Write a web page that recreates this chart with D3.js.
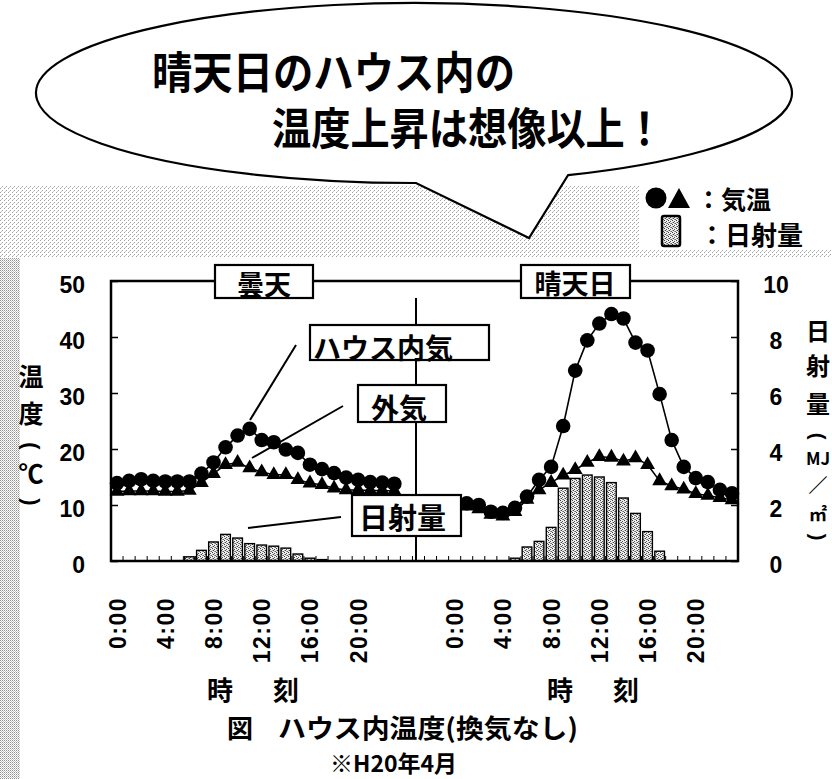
<!DOCTYPE html>
<html>
<head>
<meta charset="utf-8">
<script src="https://cdn.jsdelivr.net/npm/d3@7"></script>
<style>
  body { margin: 0; background: #fff; }
  svg { display: block; }
</style>
</head>
<body>
<svg id="chart" width="832" height="779"></svg>
<script>
// Hourly readings, 0:00–23:00, for an overcast day and a clear day (no ventilation)
const hours = d3.range(24);
const cloudyInside  = [13.9, 14.3, 14.6, 14.3, 14.2, 14.2, 14.2, 15.6, 17.6, 20.3, 22.4, 23.6,
                       21.6, 21.2, 19.9, 19.3, 17.2, 16.4, 15.7, 14.9, 14.5, 14.1, 14.0, 13.8];
const cloudyOutside = [12.4, 12.5, 12.5, 12.5, 12.4, 12.4, 12.6, 14.0, 15.6, 17.2, 17.6, 16.6,
                       15.9, 15.4, 15.4, 14.5, 13.9, 13.6, 13.0, 12.7, 12.7, 12.6, 12.6, 12.5];
const cloudySolar   = [0, 0, 0, 0, 0, 0, 0.15, 0.38, 0.68, 0.95, 0.82, 0.62,
                       0.57, 0.53, 0.46, 0.25, 0.1, 0.05, 0, 0, 0, 0, 0, 0];
const sunnyInside   = [10.6, 10.3, 10.0, 8.8, 8.6, 9.5, 11.5, 14.5, 16.8, 24.1, 34.0, 39.4,
                       42.4, 44.1, 43.3, 39.0, 37.6, 29.8, 21.6, 16.8, 14.8, 14.1, 12.7, 12.1];
const sunnyOutside  = [10.0, 9.8, 9.3, 8.3, 8.0, 8.8, 11.0, 12.7, 14.0, 15.3, 16.3, 17.6,
                       18.6, 18.5, 17.8, 18.4, 17.2, 14.3, 13.4, 12.8, 12.0, 11.7, 11.3, 10.9];
const sunnySolar    = [0, 0, 0, 0, 0, 0.1, 0.5, 0.7, 1.2, 2.6, 2.95, 3.07,
                       3.0, 2.8, 2.25, 1.7, 1.05, 0.35, 0, 0, 0, 0, 0, 0];

const dayNames   = ["曇天", "晴天日"];
const tempTicks  = [0, 10, 20, 30, 40, 50];
const solarTicks = [0, 2, 4, 6, 8, 10];
const timeTicks  = [0, 4, 8, 12, 16, 20];

// The two days share one hourly category axis: 24 slots, 4 empty slots, 24 slots
const daySlotStart = [0, 28];
const slotCount = 52;

const days = [
  { name: dayNames[0], start: daySlotStart[0], inside: cloudyInside, outside: cloudyOutside, solar: cloudySolar },
  { name: dayNames[1], start: daySlotStart[1], inside: sunnyInside,  outside: sunnyOutside,  solar: sunnySolar }
];

const JP = "'Noto Sans CJK JP', 'Noto Sans', sans-serif";
const NUM = "'Liberation Sans', Arial, sans-serif";

const svg = d3.select("#chart");
const defs = svg.append("defs");

// stippled fill for the radiation bars
const stip = defs.append("pattern").attr("id", "stipple")
  .attr("width", 4).attr("height", 4).attr("patternUnits", "userSpaceOnUse");
stip.append("rect").attr("width", 4).attr("height", 4).attr("fill", "#eeeeee");
[[0, 0, "#3a3a3a"], [2, 1, "#555"], [1, 2, "#444"], [3, 3, "#666"], [2, 3, "#999"], [0, 2, "#aaa"]]
  .forEach(([px, py, c]) => stip.append("rect").attr("x", px).attr("y", py)
    .attr("width", 1).attr("height", 1).attr("fill", c));

// printed screen tone behind the heading area
const grain = defs.append("pattern").attr("id", "grain")
  .attr("width", 4).attr("height", 4).attr("patternUnits", "userSpaceOnUse");
grain.append("rect").attr("x", 0).attr("y", 0).attr("width", 1).attr("height", 1).attr("fill", "#555");
grain.append("rect").attr("x", 2).attr("y", 2).attr("width", 1).attr("height", 1).attr("fill", "#555");
grain.append("rect").attr("x", 1).attr("y", 3).attr("width", 1).attr("height", 1).attr("fill", "#999");

const grainDense = defs.append("pattern").attr("id", "grainDense")
  .attr("width", 2).attr("height", 2).attr("patternUnits", "userSpaceOnUse");
grainDense.append("rect").attr("x", 0).attr("y", 0).attr("width", 1).attr("height", 1).attr("fill", "#444");
grainDense.append("rect").attr("x", 1).attr("y", 1).attr("width", 1).attr("height", 1).attr("fill", "#999");

svg.append("rect").attr("width", 832).attr("height", 779).attr("fill", "#fff");
svg.append("path").attr("d", "M0,186 H640 V250 H832 V258 H0 Z").attr("fill", "url(#grain)").attr("opacity", 0.55);
svg.append("rect").attr("x", 0).attr("y", 258).attr("width", 20).attr("height", 521)
  .attr("fill", "url(#grainDense)").attr("opacity", 0.6);

// ---- speech bubble heading ----
const ell = { cx: 414, cy: 93, rx: 378, ry: 90 };
const ellY = px => ell.cy + ell.ry * Math.sqrt(1 - Math.pow((px - ell.cx) / ell.rx, 2));
const jL = [416, ellY(416)], jR = [568, ellY(568)], tip = [529, 238];
svg.append("path")
  .attr("d", `M${jR[0]},${jR[1]} A${ell.rx},${ell.ry} 0 1 0 ${jL[0]},${jL[1]} L${tip[0]},${tip[1]} Z`)
  .attr("fill", "#fff").attr("stroke", "#000").attr("stroke-width", 2.2).attr("stroke-linejoin", "miter");

svg.append("text").attr("x", 152).attr("y", 70)
  .attr("font-family", JP).attr("font-weight", 700).attr("font-size", 44)
  .attr("dominant-baseline", "central")
  .attr("textLength", 363).attr("lengthAdjust", "spacingAndGlyphs")
  .text("晴天日のハウス内の");
svg.append("text").attr("x", 272).attr("y", 126)
  .attr("font-family", JP).attr("font-weight", 700).attr("font-size", 44)
  .attr("dominant-baseline", "central")
  .attr("textLength", 392).attr("lengthAdjust", "spacingAndGlyphs")
  .text("温度上昇は想像以上！");

// ---- legend ----
const lg = svg.append("g");
lg.append("circle").attr("cx", 656).attr("cy", 198).attr("r", 10.5).attr("fill", "#000");
lg.append("path").attr("d", "M668,208 L690,208 L679,188 Z").attr("fill", "#000");
lg.append("text").attr("x", 696).attr("y", 198).attr("dominant-baseline", "central")
  .attr("font-family", JP).attr("font-weight", 700).attr("font-size", 25).text("：気温");
lg.append("rect").attr("x", 662).attr("y", 216).attr("width", 18).attr("height", 30).attr("rx", 2)
  .attr("fill", "url(#stipple)").attr("stroke", "#000").attr("stroke-width", 2.5);
lg.append("text").attr("x", 699).attr("y", 233).attr("dominant-baseline", "central")
  .attr("font-family", JP).attr("font-weight", 700).attr("font-size", 26).text("：日射量");

// ---- scales ----
const plot = { left: 111, right: 738, top: 281, bottom: 561 };
const x = d3.scaleLinear().domain([-0.5, slotCount - 0.5]).range([plot.left, plot.right]);
const y = d3.scaleLinear().domain([0, 50]).range([plot.bottom, plot.top]);
const yS = d3.scaleLinear().domain([0, 10]).range([plot.bottom, plot.top]);
const step = x(1) - x(0);
const barW = step * 0.8;

// hourly category ticks along the bottom
svg.append("g").selectAll("line")
  .data(d3.range(slotCount + 1))
  .join("line")
  .attr("x1", k => x(k - 0.5)).attr("x2", k => x(k - 0.5))
  .attr("y1", plot.bottom).attr("y2", plot.bottom - 5)
  .attr("stroke", "#000").attr("stroke-width", 1);

// ---- radiation bars ----
days.forEach(day => {
  const rows = hours.map(h => ({ slot: day.start + h, v: day.solar[h] })).filter(d => d.v > 0);
  svg.append("g").selectAll("rect")
    .data(rows)
    .join("rect")
    .attr("x", d => x(d.slot) - barW / 2)
    .attr("y", d => yS(d.v))
    .attr("width", barW)
    .attr("height", d => yS(0) - yS(d.v))
    .attr("fill", "url(#stipple)")
    .attr("stroke", "#000").attr("stroke-width", 1.4);
});

// ---- temperature series ----
const line = d3.line().x(d => x(d.slot)).y(d => y(d.v));
const tri = d3.symbol().type(d3.symbolTriangle).size(95);
days.forEach(day => {
  const outside = hours.map(h => ({ slot: day.start + h, v: day.outside[h] }));
  const inside = hours.map(h => ({ slot: day.start + h, v: day.inside[h] }));
  svg.append("path").datum(outside).attr("d", line)
    .attr("fill", "none").attr("stroke", "#000").attr("stroke-width", 1.5);
  svg.append("g").selectAll("path")
    .data(outside).join("path")
    .attr("d", tri)
    .attr("transform", d => `translate(${x(d.slot)},${y(d.v)})`)
    .attr("fill", "#000");
  svg.append("path").datum(inside).attr("d", line)
    .attr("fill", "none").attr("stroke", "#000").attr("stroke-width", 1.6);
  svg.append("g").selectAll("circle")
    .data(inside).join("circle")
    .attr("cx", d => x(d.slot)).attr("cy", d => y(d.v)).attr("r", 7.3)
    .attr("fill", "#000");
});

// ---- frame and axes ----
svg.append("rect")
  .attr("x", plot.left).attr("y", plot.top)
  .attr("width", plot.right - plot.left).attr("height", plot.bottom - plot.top)
  .attr("fill", "none").attr("stroke", "#000").attr("stroke-width", 2.5);

const gL = svg.append("g").attr("transform", `translate(${plot.left},0)`)
  .call(d3.axisLeft(y).tickValues(tempTicks).tickSizeInner(-7).tickSizeOuter(0).tickPadding(26));
gL.select(".domain").remove();
gL.selectAll("line").attr("stroke", "#000").attr("stroke-width", 1.5);
gL.selectAll("text").attr("font-family", NUM).attr("font-weight", 700).attr("font-size", 23)
  .attr("fill", "#000").attr("dy", "0.5em");

const gR = svg.append("g").attr("transform", `translate(${plot.right},0)`)
  .call(d3.axisRight(yS).tickValues(solarTicks).tickSizeInner(-7).tickSizeOuter(0).tickPadding(38));
gR.select(".domain").remove();
gR.selectAll("line").attr("stroke", "#000").attr("stroke-width", 1.5);
gR.selectAll("text").attr("font-family", NUM).attr("font-weight", 700).attr("font-size", 23)
  .attr("fill", "#000").attr("text-anchor", "middle").attr("dy", "0.5em");

const labelSlots = daySlotStart.flatMap(s => timeTicks.map(h => s + h));
const hourOf = s => s >= daySlotStart[1] ? s - daySlotStart[1] : s - daySlotStart[0];
const gB = svg.append("g").attr("transform", `translate(0,${plot.bottom})`)
  .call(d3.axisBottom(x).tickValues(labelSlots).tickFormat(s => `${hourOf(s)}:00`).tickSize(0));
gB.select(".domain").remove();
gB.selectAll("text")
  .attr("transform", "rotate(-90)")
  .attr("text-anchor", "end")
  .attr("x", -36).attr("y", 0).attr("dy", null)
  .attr("dominant-baseline", "central")
  .attr("font-family", NUM).attr("font-weight", 700).attr("font-size", 23)
  .attr("letter-spacing", 1.5)
  .attr("fill", "#000");

// divider between the two days
svg.append("line").attr("x1", 416).attr("x2", 416).attr("y1", 298).attr("y2", plot.bottom)
  .attr("stroke", "#000").attr("stroke-width", 2);

// ---- callouts ----
const leaders = [
  [[296, 345], [250, 420]],
  [[343, 406], [252, 458]],
  [[341, 517], [248, 528]]
];
svg.append("g").selectAll("line").data(leaders).join("line")
  .attr("x1", d => d[0][0]).attr("y1", d => d[0][1])
  .attr("x2", d => d[1][0]).attr("y2", d => d[1][1])
  .attr("stroke", "#000").attr("stroke-width", 2);

const boxes = [
  { x0: 310, y0: 325, x1: 489, y1: 360, tx: 313, ty: 347, size: 28, text: "ハウス内気" },
  { x0: 358, y0: 385, x1: 446, y1: 422, tx: 371, ty: 407, size: 28, text: "外気" },
  { x0: 352, y0: 495, x1: 461, y1: 536, tx: 359, ty: 516, size: 29, text: "日射量" },
  { x0: 215, y0: 265, x1: 313, y1: 298, tx: 264, ty: 283, size: 27, text: dayNames[0], mid: true },
  { x0: 521, y0: 265, x1: 630, y1: 298, tx: 575, ty: 282, size: 27, text: dayNames[1], mid: true }
];
const bg = svg.append("g").selectAll("g").data(boxes).join("g");
bg.append("rect")
  .attr("x", d => d.x0).attr("y", d => d.y0)
  .attr("width", d => d.x1 - d.x0).attr("height", d => d.y1 - d.y0)
  .attr("fill", "#fff").attr("stroke", "#000").attr("stroke-width", 2.2);
bg.append("text")
  .attr("x", d => d.tx).attr("y", d => d.ty)
  .attr("text-anchor", d => d.mid ? "middle" : "start")
  .attr("dominant-baseline", "central")
  .attr("font-family", JP).attr("font-weight", 700).attr("font-size", d => d.size)
  .text(d => d.text);

// ---- axis titles (stacked vertically; brackets turned to run with the column) ----
function verticalTitle(cx, parts) {
  const g = svg.append("g");
  g.selectAll("text").data(parts).join("text")
    .attr("x", cx).attr("y", d => d.y)
    .attr("transform", d => d.turn ? `rotate(90,${cx},${d.y})` : null)
    .attr("text-anchor", "middle").attr("dominant-baseline", "central")
    .attr("font-family", d => d.turn ? NUM : JP)
    .attr("font-weight", 700).attr("font-size", d => d.size)
    .text(d => d.t);
}
verticalTitle(31, [
  { t: "温", y: 375, size: 25 }, { t: "度", y: 412, size: 25 },
  { t: "(", y: 446, size: 22, turn: true }, { t: "℃", y: 472, size: 25 },
  { t: ")", y: 502, size: 22, turn: true }
]);
verticalTitle(818, [
  { t: "日", y: 329, size: 24 }, { t: "射", y: 364, size: 24 }, { t: "量", y: 402, size: 24 },
  { t: "(", y: 436, size: 20, turn: true }, { t: "MJ", y: 457, size: 17 },
  { t: "／", y: 484, size: 19 }, { t: "㎡", y: 513, size: 18 },
  { t: ")", y: 537, size: 20, turn: true }
]);

// ---- captions ----
[[207, 688], [547, 688]].forEach(p => {
  svg.append("text").attr("x", p[0]).attr("y", p[1]).attr("dominant-baseline", "central")
    .attr("font-family", JP).attr("font-weight", 700).attr("font-size", 26)
    .attr("letter-spacing", 7).text("時　刻");
});
svg.append("text").attr("x", 227).attr("y", 726).attr("dominant-baseline", "central")
  .attr("font-family", JP).attr("font-weight", 700).attr("font-size", 26).text("図");
svg.append("text").attr("x", 278).attr("y", 726).attr("dominant-baseline", "central")
  .attr("font-family", JP).attr("font-weight", 700).attr("font-size", 26)
  .attr("textLength", 300).attr("lengthAdjust", "spacingAndGlyphs")
  .text("ハウス内温度(換気なし)");
svg.append("text").attr("x", 330).attr("y", 762).attr("dominant-baseline", "central")
  .attr("font-family", JP).attr("font-weight", 700).attr("font-size", 23)
  .text("※H20年4月");
</script>
</body>
</html>
